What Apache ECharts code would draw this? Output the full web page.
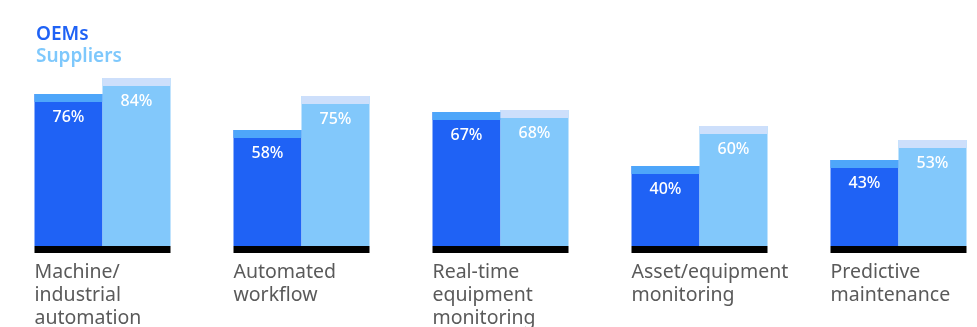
<!DOCTYPE html>
<html>
<head>
<meta charset="utf-8">
<script src="https://cdn.jsdelivr.net/npm/echarts@6/dist/echarts.min.js"></script>
<style>
  html, body { margin: 0; padding: 0; background: #fff; }
  #chart { width: 977px; height: 327px; }
</style>
</head>
<body>
<div id="chart"></div>
<script>
const categories = ['Machine/\nindustrial\nautomation', 'Automated\nworkflow', 'Real-time\nequipment\nmonitoring', 'Asset/equipment\nmonitoring', 'Predictive\nmaintenance'];
const oems = [76, 58, 67, 40, 43];
const suppliers = [84, 75, 68, 60, 53];

const FONT = '"Noto Sans", sans-serif';
const BAR_W = 68, CAP_H = 8;

// side: -1 = left bar (OEMs), 1 = right bar (Suppliers)
function barRenderer(side, mainColor, capColor, withBase) {
  return function (params, api) {
    const idx = api.value(0);
    const top = api.coord([idx, api.value(1)]);
    const base = api.coord([idx, 0]);
    const x = side < 0 ? top[0] - BAR_W : top[0];
    const h = base[1] - top[1];
    const children = [
      { type: 'rect', shape: { x: x, y: top[1], width: BAR_W, height: h }, style: { fill: mainColor } },
      { type: 'rect', shape: { x: x, y: top[1], width: BAR_W, height: CAP_H }, style: { fill: capColor } },
      { type: 'text', x: x + BAR_W / 2, y: top[1] + 23,
        style: { text: api.value(1) + '%', fill: '#fff', font: '500 16px ' + FONT, align: 'center', verticalAlign: 'middle' } }
    ];
    if (withBase) {
      children.push({ type: 'rect', shape: { x: top[0] - BAR_W, y: base[1], width: BAR_W * 2, height: 7 }, style: { fill: '#000' } });
      children.push({ type: 'text', x: top[0] - BAR_W, y: base[1] + 14.5,
        style: { text: categories[idx], fill: '#5a5a5a', font: '19.5px ' + FONT, lineHeight: 23, align: 'left', verticalAlign: 'top' } });
    }
    return { type: 'group', children: children };
  };
}

const chart = echarts.init(document.getElementById('chart'));
chart.setOption({
  animation: false,
  grid: { left: 3, width: 995, top: 46, bottom: 81, outerBoundsMode: 'none' },
  legend: {
    orient: 'vertical', left: 31, top: 24, padding: 0, itemGap: 0,
    icon: 'none', itemWidth: 0, itemHeight: 0, selectedMode: false,
    textStyle: { fontFamily: FONT, fontSize: 19, fontWeight: 600, lineHeight: 22, padding: 0 },
    data: [
      { name: 'OEMs', textStyle: { color: '#1f62f5' } },
      { name: 'Suppliers', textStyle: { color: '#7ec8fc' } }
    ]
  },
  xAxis: { type: 'category', data: categories, show: false },
  yAxis: { type: 'value', min: 0, max: 100, show: false },
  series: [
    { name: 'OEMs', type: 'custom', clip: false,
      renderItem: barRenderer(-1, '#1f62f5', '#4ea6fa', true),
      data: oems.map((v, i) => [i, v]) },
    { name: 'Suppliers', type: 'custom', clip: false,
      renderItem: barRenderer(1, '#82c8fb', '#cddffb', false),
      data: suppliers.map((v, i) => [i, v]) }
  ]
});
</script>
</body>
</html>
